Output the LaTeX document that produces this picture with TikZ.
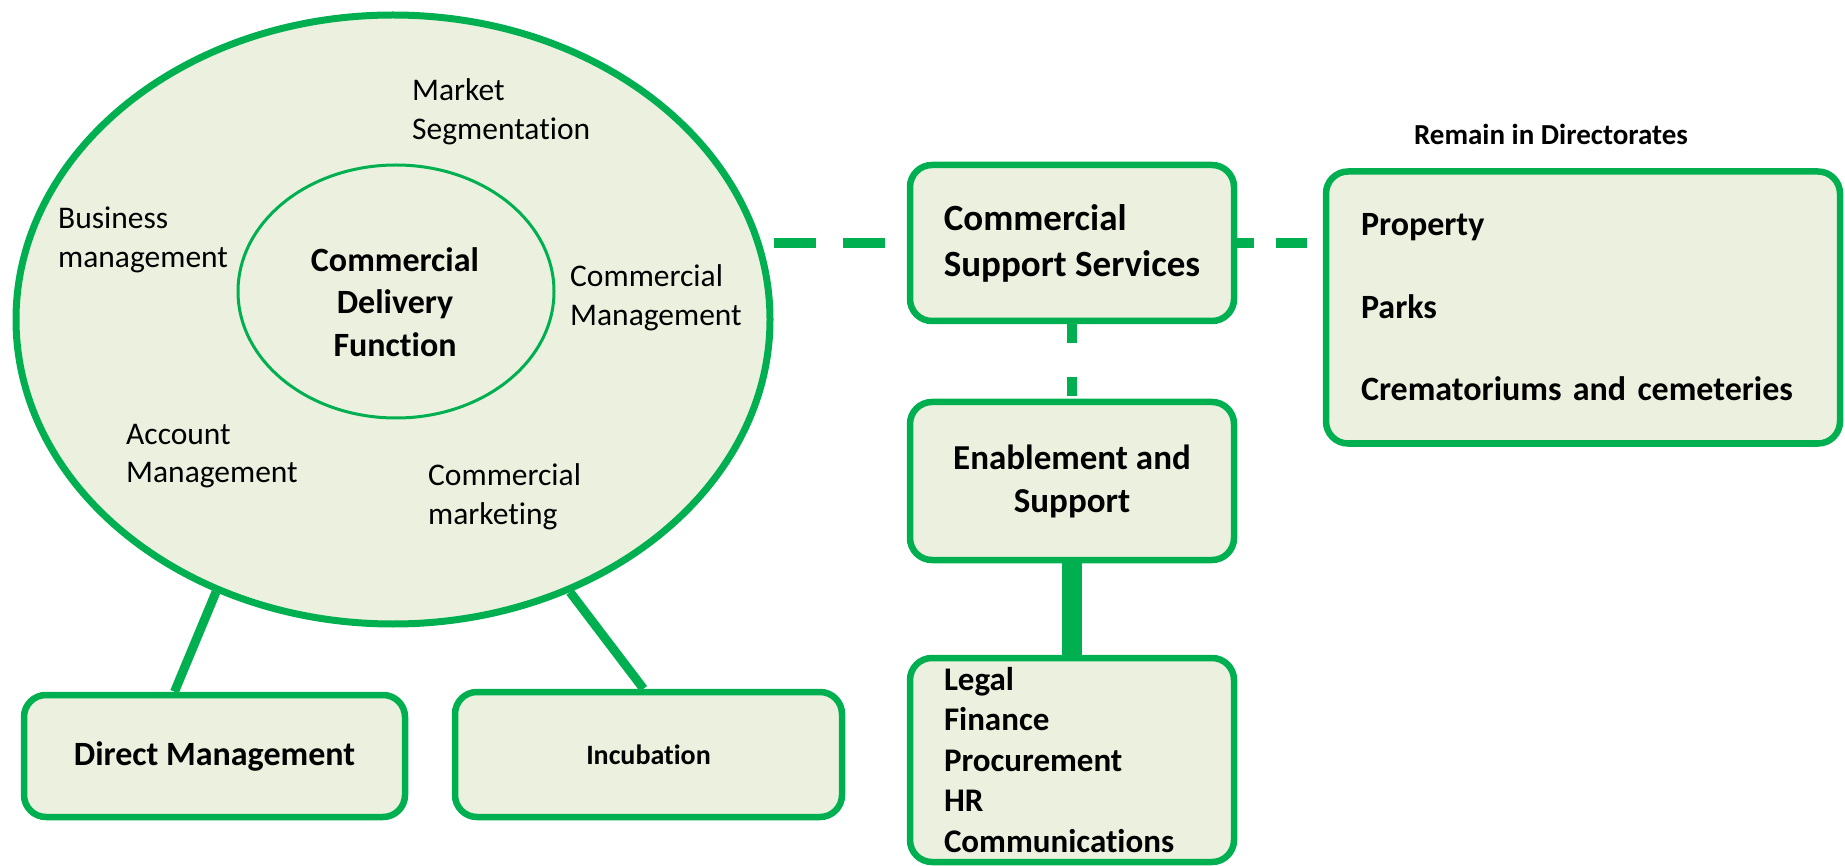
\documentclass[tikz,border=0pt]{standalone}
\usepackage{fontspec}
\setmainfont{Carlito}[Ligatures={NoCommon,NoRequired,NoContextual}]
\usetikzlibrary{shapes.geometric}
\definecolor{gr}{HTML}{00B050}
\definecolor{fl}{HTML}{EBF1DE}
\begin{document}
\begin{tikzpicture}[x=1pt,y=-1pt,
  box/.style={draw=gr, fill=fl, line width=6.5pt, rounded corners=22pt, inner sep=0pt},
  lbl/.style={font=\fontsize{31.5}{38.5}\selectfont, align=left, inner sep=0pt},
  dline/.style={draw=gr, line width=10pt},
  sline/.style={draw=gr, line width=9pt}]
\useasboundingbox (0,0) rectangle (1845,866);

\node[draw=gr, fill=fl, line width=7pt, ellipse, inner sep=0pt,
      minimum width=754pt, minimum height=609pt] (outer) at (393,319.5) {};
\node[box, minimum width=381pt, minimum height=122pt,
      font=\bfseries\fontsize{34}{40}\selectfont] (dm) at (214.5,756) {Direct Management};
\node[box, minimum width=387pt, minimum height=125pt,
      font=\bfseries\fontsize{28}{34}\selectfont] (inc) at (648.5,754.5) {Incubation};
\draw[sline] (outer.237.1) -- ([xshift=-40pt]dm.north);
\draw[sline] (outer.303.2) -- ([xshift=-5pt]inc.north);

\node[draw=gr, fill=fl, line width=3pt, ellipse, inner sep=0pt,
      minimum width=316pt, minimum height=253pt] (inner) at (396,291.5) {};
\node[align=center, inner sep=0pt, font=\bfseries\fontsize{34}{42.5}\selectfont]
  (cdf) at (395,302) {Commercial\\Delivery\\Function};

\node[lbl, anchor=west] (ms) at (412,112) {Market\\Segmentation};
\node[lbl, anchor=west] (bm) at (58,240) {Business\\management};
\node[lbl, anchor=west] (cm) at (570,298) {Commercial\\Management};
\node[lbl, anchor=west] (am) at (126,456) {Account\\Management};
\node[lbl, anchor=west] (cmk) at (428,497) {Commercial\\marketing};

\node[box, minimum width=324pt, minimum height=156pt, align=left,
      font=\bfseries\fontsize{37}{46}\selectfont] (css) at (1072,243)
      {Commercial\\Support Services};
\node[box, minimum width=324pt, minimum height=158pt, align=center,
      font=\bfseries\fontsize{35}{43}\selectfont] (enab) at (1072,481)
      {Enablement and\\Support};
\node[box, minimum width=324pt, minimum height=204pt, align=left,
      text width=256pt, inner xsep=34pt,
      font=\bfseries\fontsize{33}{40.5}\selectfont] (legal) at (1072,760)
      {Legal\\Finance\\Procurement\\HR\\Communications};
\node[box, minimum width=514pt, minimum height=272pt, align=left,
      text width=444pt, inner xsep=35pt,
      font=\bfseries\fontsize{34}{82.5}\selectfont] (prop) at (1583,307.5)
      {Property\\Parks\\Crematoriums and cemeteries};
\node[inner sep=0pt, font=\bfseries\fontsize{29}{34}\selectfont] (rid) at (1551,134)
      {Remain in Directorates};

\draw[dline, dash pattern=on 42pt off 27pt] (css.west -| outer.east) -- (css.west);
\draw[dline, dash pattern=on 31pt off 22pt, dash phase=14pt] (css.east) -- (css.east -| prop.west);
\draw[dline, dash pattern=on 19pt off 34pt] (css.south) -- (enab.north);
\draw[draw=gr, line width=20pt] (enab.south) -- (enab.south |- legal.north);
\end{tikzpicture}
\end{document}
